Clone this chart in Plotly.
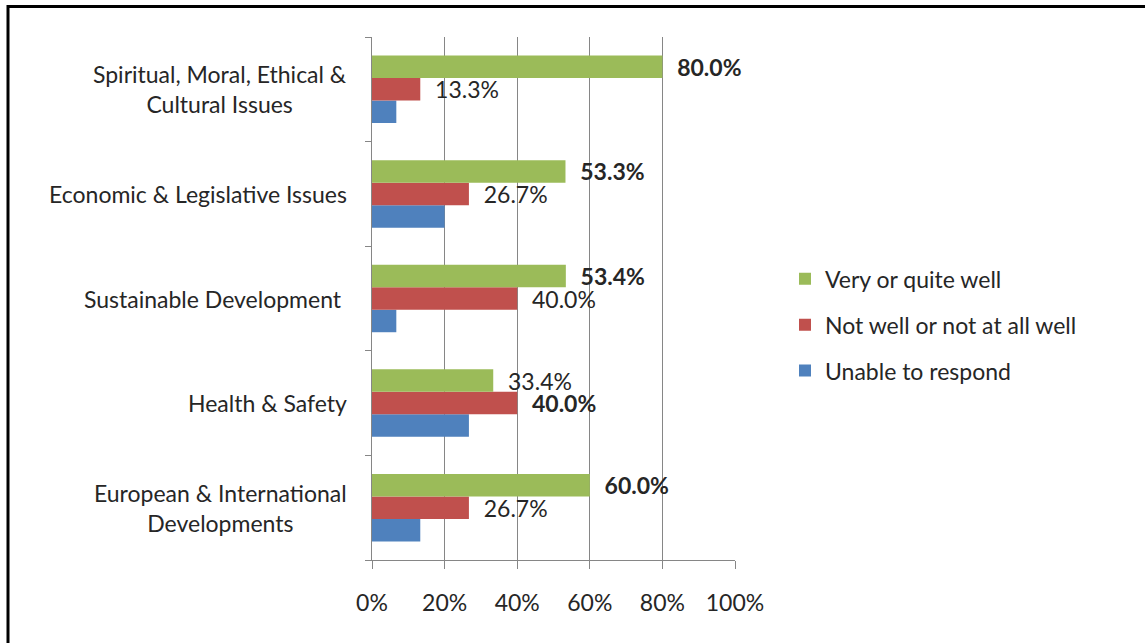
import plotly.graph_objects as go

categories = [
    "European & International Developments",
    "Health & Safety",
    "Sustainable Development",
    "Economic & Legislative Issues",
    "Spiritual, Moral, Ethical & Cultural Issues",
]
category_labels = [
    "European & International<br>Developments",
    "Health & Safety",
    "Sustainable Development\u00a0",
    "Economic & Legislative Issues",
    "Spiritual, Moral, Ethical &<br>Cultural Issues",
]
very_well = [60.0, 33.4, 53.4, 53.3, 80.0]
not_well = [26.7, 40.0, 40.0, 26.7, 13.3]
unable = [13.3, 26.7, 6.7, 20.0, 6.7]
tick_vals = [0, 20, 40, 60, 80, 100]
tick_text = ["0%", "20%", "40%", "60%", "80%", "100%"]

FONT = "Lato"
FS = 23
W, H = 1145, 643
L, R, T, B = 372, 735, 36.5, 560


def px_x(p):
    return (p - L) / (R - L)


def px_y(p):
    return (B - p) / (B - T)


def labels(vals):
    out = []
    for i, v in enumerate(vals):
        mx = max(very_well[i], not_well[i], unable[i])
        s = f"{v:.1f}%"
        if v == mx:
            s = f"<b>{s}</b>"
        out.append("\u00a0\u00a0" + s)
    return out


fig = go.Figure()
fig.add_trace(go.Bar(
    y=categories, x=unable, orientation="h", name="Unable to respond",
    marker=dict(color="#4F81BD", line=dict(width=0)),
    legendrank=3, legendgroup="g3", hoverinfo="x",
))
fig.add_trace(go.Bar(
    y=categories, x=not_well, orientation="h", name="Not well or not at all well",
    marker=dict(color="#C0504D", line=dict(width=0)),
    text=labels(not_well), textposition="outside", cliponaxis=False,
    constraintext="none", textfont=dict(family=FONT, size=FS, color="#262626"),
    legendrank=2, legendgroup="g2",
))
fig.add_trace(go.Bar(
    y=categories, x=very_well, orientation="h", name="Very or quite well",
    marker=dict(color="#9BBB59", line=dict(width=0)),
    text=labels(very_well), textposition="outside", cliponaxis=False,
    constraintext="none", textfont=dict(family=FONT, size=FS, color="#262626"),
    legendrank=1, legendgroup="g1",
))

annotations = []
for c, lab in zip(categories, category_labels):
    annotations.append(dict(
        x=px_x(349), xref="paper", y=c, yref="y", text=lab, showarrow=False,
        xanchor="right", yanchor="middle", align="center",
        font=dict(family=FONT, size=FS, color="#262626"),
    ))

fig.update_layout(
    width=W, height=H,
    margin=dict(l=L, r=W - R, t=T, b=H - B, autoexpand=False),
    paper_bgcolor="white", plot_bgcolor="white",
    barmode="group", bargap=0.355, bargroupgap=0,
    font=dict(family=FONT, size=FS, color="#262626"),
    showlegend=True,
    legend=dict(
        x=px_x(785), y=px_y(257), xanchor="left", yanchor="top",
        traceorder="grouped", tracegroupgap=13,
        itemwidth=30,
        font=dict(family=FONT, size=FS, color="#262626"),
        bgcolor="rgba(0,0,0,0)",
    ),
    xaxis=dict(
        range=[0, 100], tickvals=tick_vals, ticktext=tick_text,
        showgrid=True, gridcolor="#868686", gridwidth=1,
        showline=True, linecolor="#868686", linewidth=1,
        ticks="outside", ticklen=8, tickcolor="#868686",
        ticklabelstandoff=14, zeroline=False,
        tickfont=dict(family=FONT, size=FS, color="#262626"),
        fixedrange=True,
    ),
    yaxis=dict(
        categoryorder="array", categoryarray=categories,
        showticklabels=False, tickson="boundaries",
        ticks="outside", ticklen=6, tickcolor="#868686",
        showline=True, linecolor="#868686", linewidth=1,
        showgrid=False, zeroline=False, fixedrange=True,
    ),
    annotations=annotations,
    shapes=[dict(
        type="rect", xref="paper", yref="paper",
        x0=px_x(8), x1=px_x(1170), y0=px_y(670), y1=px_y(6),
        line=dict(color="black", width=3), fillcolor="rgba(0,0,0,0)",
        layer="above",
    )],
)

fig.write_html(
    "out.html",
    config={"displayModeBar": False},
    post_script="document.body.style.margin='0';document.body.style.overflow='hidden';",
)
